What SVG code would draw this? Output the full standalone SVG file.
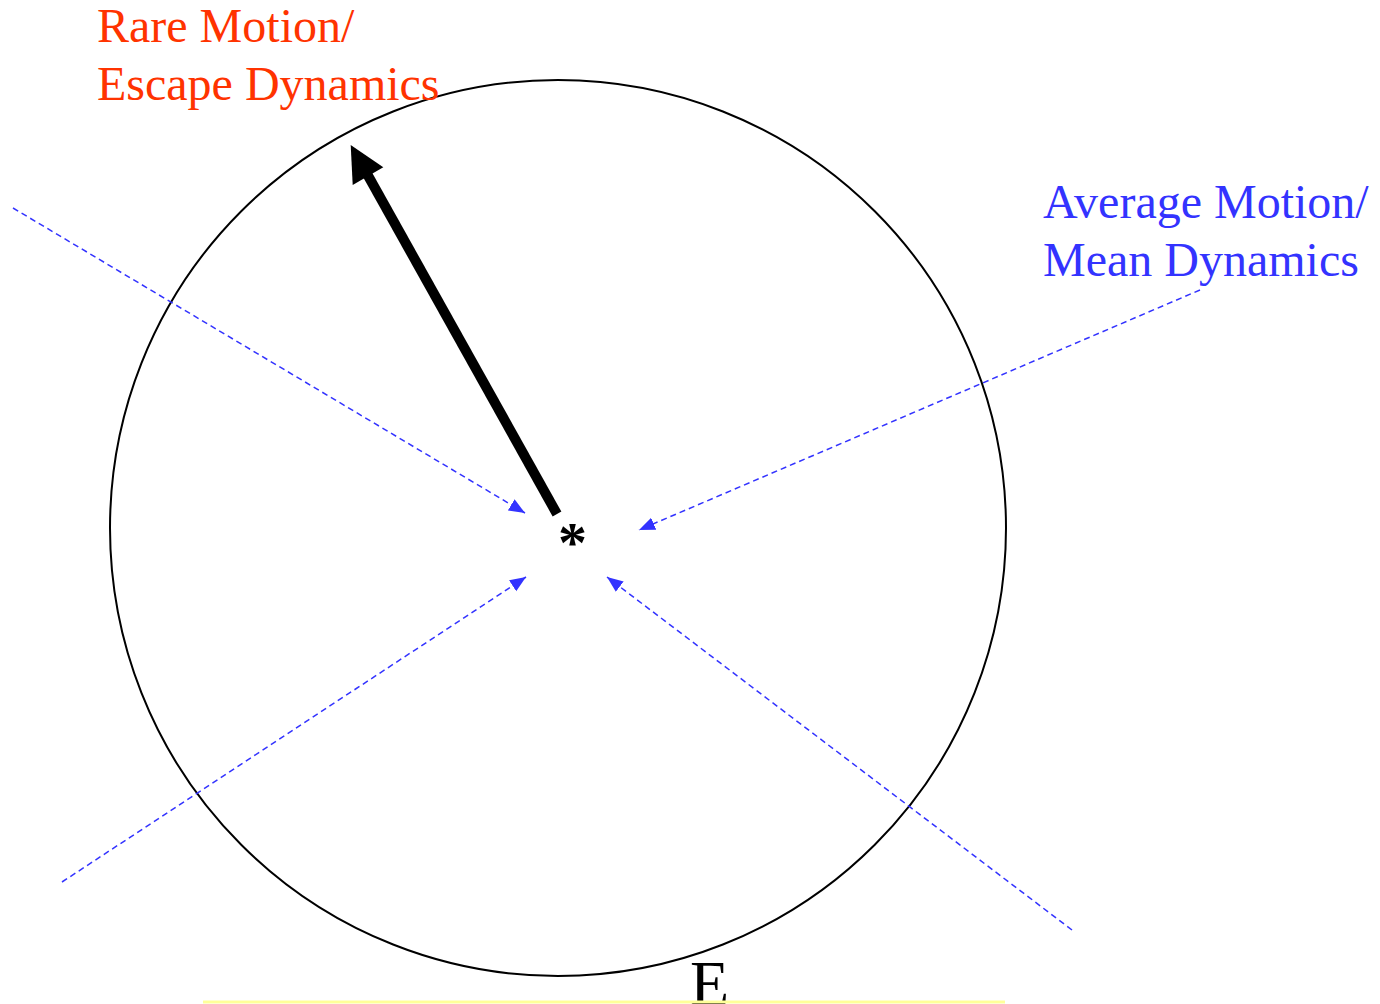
<svg xmlns="http://www.w3.org/2000/svg" width="1380" height="1004" viewBox="0 0 1380 1004">
<style>
.lbl{font-family:"Liberation Serif","Times New Roman",serif;font-size:48px}
.red{fill:#ff3300}
.blue{fill:#3333ff}
.dash{stroke:#3333ff;stroke-width:1.5;stroke-dasharray:6 4;fill:none}
</style>
<defs>
<marker id="bh" markerUnits="userSpaceOnUse" markerWidth="17" markerHeight="14" refX="16" refY="6.5" orient="auto">
<path d="M0,0 L16,6.5 L0,13 Z" fill="#3333ff"/>
</marker>
</defs>
<rect width="1380" height="1004" fill="#ffffff"/>
<g id="region">
<circle cx="558" cy="528" r="448" fill="none" stroke="#000" stroke-width="2"/>
</g>
<g id="connectors">
<line class="dash" x1="13" y1="208" x2="525" y2="513" marker-end="url(#bh)"/>
<line class="dash" x1="1200" y1="290" x2="639" y2="530" marker-end="url(#bh)"/>
<line class="dash" x1="62" y1="882" x2="526" y2="577" marker-end="url(#bh)"/>
<line class="dash" x1="1072" y1="930" x2="607" y2="577" marker-end="url(#bh)"/>
<g id="escape-arrow">
<line x1="557" y1="514" x2="366" y2="172" stroke="#000" stroke-width="10"/>
<polygon points="350.7,145 352.7,185 383.3,167.3" fill="#000"/>
</g>
</g>
<g id="star">
<text x="558" y="562" font-family="Liberation Serif,serif" font-weight="bold" font-size="58" fill="#000">*</text>
</g>
<g id="label-rare">
<text class="lbl red" x="97" y="42">Rare Motion/</text>
<text class="lbl red" x="97" y="100">Escape Dynamics</text>
</g>
<g id="label-average">
<text class="lbl blue" x="1043" y="218">Average Motion/</text>
<text class="lbl blue" x="1043" y="276">Mean Dynamics</text>
</g>
<g id="label-e">
<text x="690" y="1005" font-family="Liberation Serif,serif" font-size="64" fill="#000">E</text>
</g>
<line x1="203" y1="1002" x2="1005" y2="1002" stroke="#ffff99" stroke-width="3"/>
</svg>
